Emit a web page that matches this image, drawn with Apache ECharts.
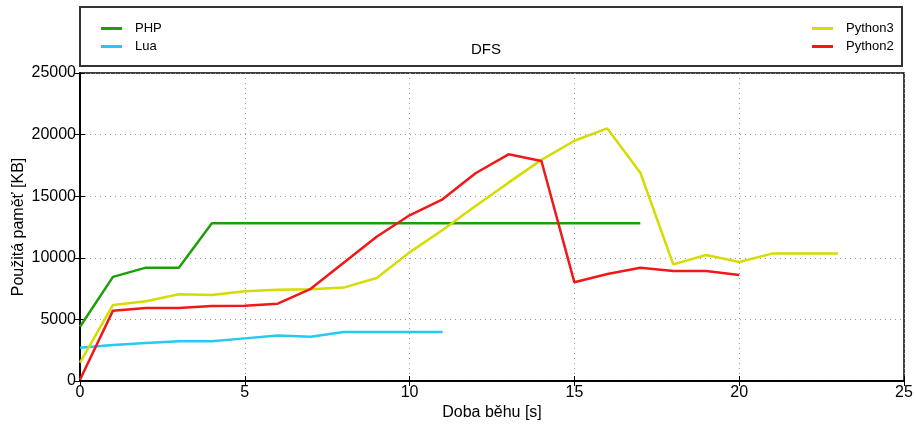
<!DOCTYPE html>
<html>
<head>
<meta charset="utf-8">
<script src="https://cdn.jsdelivr.net/npm/echarts@6/dist/echarts.min.js"></script>
<style>
html,body{margin:0;padding:0;background:#fff;}
#chart{width:916px;height:425px;}
</style>
</head>
<body>
<div id="chart"></div>
<script>
const phpX = [0,1,2,3,4,5,6,7,8,9,10,11,12,13,14,15,16,17];
const phpY = [4400,8450,9200,9200,12800,12800,12800,12800,12800,12800,12800,12800,12800,12800,12800,12800,12800,12800];
const luaX = [0,1,2,3,4,5,6,7,8,9,10,11];
const luaY = [2700,2920,3080,3220,3220,3460,3700,3600,3980,3980,3980,3980];
const py3X = [0,1,2,3,4,5,6,7,8,9,10,11,12,13,14,15,16,17,18,19,20,21,22,23];
const py3Y = [1500,6170,6470,7040,6980,7280,7410,7440,7580,8360,10440,12260,14200,16100,17950,19500,20500,16900,9470,10230,9660,10340,10340,10340];
const py2X = [0,1,2,3,4,5,6,7,8,9,10,11,12,13,14,15,16,17,18,19,20];
const py2Y = [100,5710,5930,5930,6090,6100,6280,7480,9600,11710,13450,14750,16860,18400,17860,8010,8690,9200,8930,8930,8600];

const xTicks = [0,5,10,15,20,25];
const yTicks = [0,5000,10000,15000,20000,25000];

const names = ['PHP','Lua','Python3','Python2'];
const colors = ['#1f9e0c','#22ccee','#d4dc00','#f01818'];

function zip(xs, ys){ return xs.map((x,i)=>[x, ys[i]]); }

const chart = echarts.init(document.getElementById('chart'), null, {renderer:'canvas'});
const font = 'Liberation Sans, Arial, sans-serif';

const legendCommon = {
  orient:'vertical', itemWidth:21, itemHeight:3, itemGap:5, icon:'rect',
  textStyle:{fontFamily:font, fontSize:13, color:'#000', padding:[0,0,0,8]},
  selectedMode:false
};

chart.setOption({
  animation:false,
  title:{text:'DFS', left:481, top:37, textAlign:'center',
    textStyle:{fontFamily:font, fontSize:15, fontWeight:'normal', color:'#000'}},
  legend:[
    Object.assign({}, legendCommon, {data:['PHP','Lua'], left:96, top:17}),
    Object.assign({}, legendCommon, {data:['Python3','Python2'], left:807, top:17})
  ],
  graphic:[{type:'rect', shape:{x:80, y:7, width:822, height:59},
    style:{fill:'none', stroke:'#333', lineWidth:2}, z:0}],
  grid:{left:80, right:12, top:73, bottom:44, show:true, borderColor:'#000', borderWidth:1.5,
    containLabel:false, outerBoundsMode:'none'},
  xAxis:[{
    type:'value', min:xTicks[0], max:xTicks[xTicks.length-1], interval:5,
    name:'Doba běhu [s]', nameLocation:'middle', nameGap:24, nameMoveOverlap:false,
    nameTextStyle:{fontFamily:font, fontSize:16, color:'#000'},
    axisLine:{show:true, onZero:false, lineStyle:{color:'#000', width:1.5}},
    axisTick:{show:true, inside:true, length:5, lineStyle:{color:'#000'}},
    axisLabel:{fontFamily:font, fontSize:16, color:'#000', margin:4},
    splitLine:{show:true, lineStyle:{color:'#999', type:[1,4], width:1}}
  },{
    type:'value', position:'top', min:xTicks[0], max:xTicks[xTicks.length-1], interval:5,
    axisLine:{show:true, lineStyle:{color:'#000', width:1.5}},
    axisTick:{show:true, inside:true, length:5, lineStyle:{color:'#000'}},
    axisLabel:{show:false}, splitLine:{show:false}
  }],
  yAxis:[{
    type:'value', min:yTicks[0], max:yTicks[yTicks.length-1], interval:5000,
    name:'Použitá paměť [KB]', nameLocation:'middle', nameGap:53, nameMoveOverlap:false,
    nameTextStyle:{fontFamily:font, fontSize:16, color:'#000'},
    axisLine:{show:true, onZero:false, lineStyle:{color:'#000', width:1.5}},
    axisTick:{show:true, inside:true, length:5, lineStyle:{color:'#000'}},
    axisLabel:{fontFamily:font, fontSize:16, color:'#000', margin:4, formatter:(v)=>String(v)},
    splitLine:{show:true, lineStyle:{color:'#999', type:[1,4], width:1}}
  },{
    type:'value', position:'right', min:yTicks[0], max:yTicks[yTicks.length-1], interval:5000,
    axisLine:{show:true, lineStyle:{color:'#000', width:1.5}},
    axisTick:{show:true, inside:true, length:5, lineStyle:{color:'#000'}},
    axisLabel:{show:false}, splitLine:{show:false}
  }],
  series:[
    {name:names[0], type:'line', data:zip(phpX, phpY)},
    {name:names[1], type:'line', data:zip(luaX, luaY)},
    {name:names[2], type:'line', data:zip(py3X, py3Y)},
    {name:names[3], type:'line', data:zip(py2X, py2Y)}
  ].map((s,i)=>Object.assign(s, {
    xAxisIndex:0, yAxisIndex:0, showSymbol:false, symbol:'none',
    color:colors[i], lineStyle:{color:colors[i], width:2.5}, z:3+i
  }))
});
</script>
</body>
</html>
